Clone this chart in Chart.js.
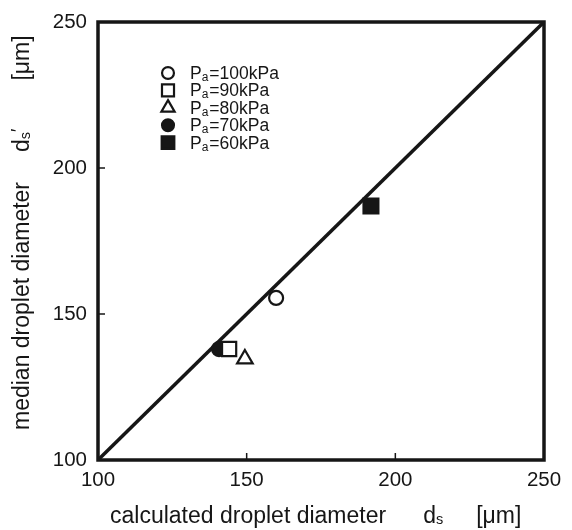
<!DOCTYPE html>
<html>
<head>
<meta charset="utf-8">
<script src="https://cdn.jsdelivr.net/npm/chart.js@4.4.1/dist/chart.umd.min.js"></script>
<style>
  html, body { margin: 0; padding: 0; background: #fff; }
  #wrap { width: 572px; height: 530px; position: relative; }
</style>
</head>
<body>
<div id="wrap"><canvas id="dropletChart"></canvas></div>
<script>
// values (um)
const pressureLabels = ['100kPa', '90kPa', '80kPa', '70kPa', '60kPa'];
const calculatedDs = [159.9, 144.1, 149.4, 140.7, 191.8];
const medianDs = [155.5, 138.0, 134.6, 138.0, 187.0];
const axisTicks = [100, 150, 200, 250];
const identityLine = [100, 250]; // ds' = ds

// marker look per pressure, same order as above
const markerLook = [
    { pointStyle: 'circle', filled: false, radius: 7 },
    { pointStyle: 'rect', filled: false, radius: 10 },
    { pointStyle: 'triangle', filled: false, radius: 9 },
    { pointStyle: 'circle', filled: true, radius: 7 },
    { pointStyle: 'rect', filled: true, radius: 10.5 }
];

const INK = '#161616';
const FONT = "'Liberation Sans', Arial, Helvetica, sans-serif";

// draws a run of text pieces (some as sub/superscript) left to right
function drawPieces(ctx, pieces, x, y) {
    pieces.forEach(p => {
        x += p.gap || 0;
        ctx.font = p.size + 'px ' + FONT;
        ctx.fillText(p.text, x, y + (p.dy || 0));
        x += ctx.measureText(p.text).width;
    });
}

const paperPlugin = {
    id: 'paperPlugin',
    afterDatasetsDraw(chart) {
        const ctx = chart.ctx;
        const a = chart.chartArea;
        const xs = chart.scales.x, ys = chart.scales.y;
        ctx.save();
        ctx.strokeStyle = INK;
        ctx.fillStyle = INK;

        // frame
        ctx.lineWidth = 3.5;
        ctx.strokeRect(a.left, a.top, a.right - a.left, a.bottom - a.top);

        // inward tick marks
        ctx.lineWidth = 1.5;
        axisTicks.slice(1, -1).forEach(v => {
            const px = xs.getPixelForValue(v);
            ctx.beginPath();
            ctx.moveTo(px, a.bottom);
            ctx.lineTo(px, a.bottom - 7);
            ctx.stroke();
            const py = ys.getPixelForValue(v);
            ctx.beginPath();
            ctx.moveTo(a.left, py);
            ctx.lineTo(a.left + 7, py);
            ctx.stroke();
        });

        // legend
        ctx.textBaseline = 'alphabetic';
        ctx.textAlign = 'left';
        pressureLabels.forEach((lab, i) => {
            const look = markerLook[i];
            const cy = a.top + 51 + i * 17.4;
            const cx = a.left + 70;
            ctx.lineWidth = 2.2;
            ctx.fillStyle = look.filled ? INK : '#fff';
            Chart.helpers.drawPoint(ctx, {
                pointStyle: look.pointStyle,
                radius: look.radius * 0.85,
                rotation: 0,
                borderWidth: 2.2
            }, cx, cy);
            ctx.fillStyle = INK;
            drawPieces(ctx, [
                { text: 'P', size: 17.5 },
                { text: 'a', size: 12, dy: 2 },
                { text: '=' + lab, size: 17.5, gap: 1 }
            ], a.left + 92, cy + 6);
        });

        // x axis title
        drawPieces(ctx, [
            { text: 'calculated droplet diameter', size: 23 },
            { text: 'd', size: 23, gap: 37 },
            { text: 's', size: 14.5, dy: 1 },
            { text: '[\u03bcm]', size: 23, gap: 33 }
        ], a.left + 12, 523);

        // y axis title (rotated)
        ctx.translate(29, a.bottom - 30);
        ctx.rotate(-Math.PI / 2);
        drawPieces(ctx, [
            { text: 'median droplet diameter', size: 23 },
            { text: 'd', size: 23, gap: 30 },
            { text: 's', size: 14.5, dy: 1 },
            { text: '\u2032', size: 18, dy: -5 },
            { text: '[\u03bcm]', size: 23, gap: 48 }
        ], 0, 0);
        ctx.restore();
    }
};

const datasets = pressureLabels.map((lab, i) => ({
    type: 'scatter',
    label: 'Pa=' + lab,
    data: [{ x: calculatedDs[i], y: medianDs[i] }],
    pointStyle: markerLook[i].pointStyle,
    pointRadius: markerLook[i].radius,
    pointBorderWidth: 2.2,
    pointBorderColor: INK,
    pointBackgroundColor: markerLook[i].filled ? INK : '#fff',
    order: i + 1
}));

datasets.push({
    type: 'line',
    label: 'ds\' = ds',
    data: identityLine.map(v => ({ x: v, y: v })),
    borderColor: INK,
    borderWidth: 3.5,
    pointRadius: 0,
    fill: false,
    order: 10
});

const tickFont = { family: FONT, size: 20.5 };

new Chart(document.getElementById('dropletChart'), {
    type: 'scatter',
    data: { datasets: datasets },
    plugins: [paperPlugin],
    options: {
        responsive: true,
        maintainAspectRatio: false,
        animation: false,
        layout: { padding: { left: 0, top: 22, right: 28, bottom: 0 } },
        plugins: {
            legend: { display: false },
            tooltip: { enabled: false }
        },
        scales: {
            x: {
                type: 'linear',
                min: 100,
                max: 250,
                afterBuildTicks: s => { s.ticks = axisTicks.map(v => ({ value: v })); },
                afterFit: s => { s.height = 70; },
                grid: { display: false },
                border: { display: false },
                ticks: { font: tickFont, color: INK, padding: 0, maxRotation: 0 }
            },
            y: {
                type: 'linear',
                min: 100,
                max: 250,
                afterBuildTicks: s => { s.ticks = axisTicks.map(v => ({ value: v })); },
                afterFit: s => { s.width = 98; },
                grid: { display: false },
                border: { display: false },
                ticks: { font: tickFont, color: INK, padding: 3 }
            }
        }
    }
});
</script>
</body>
</html>
